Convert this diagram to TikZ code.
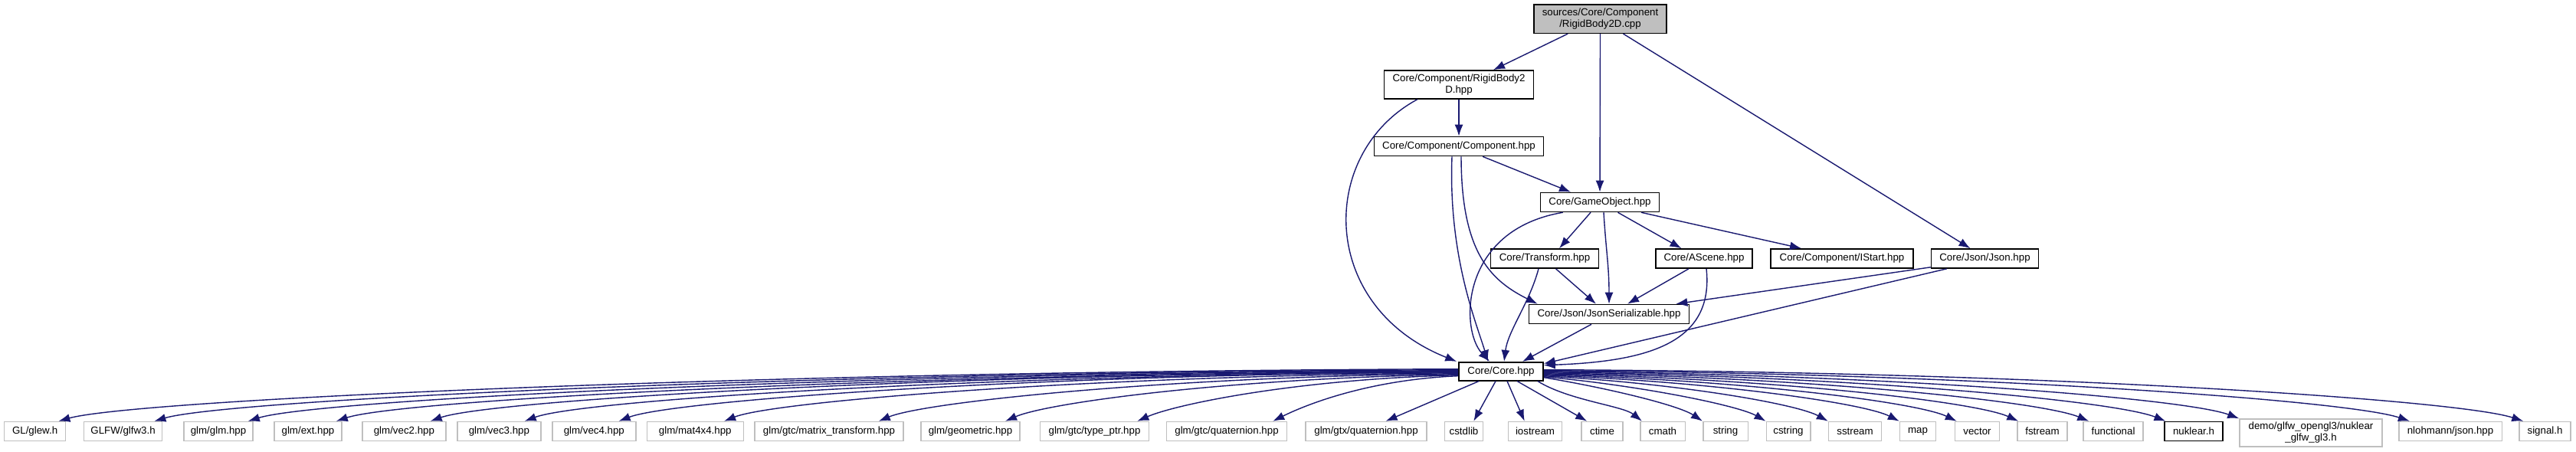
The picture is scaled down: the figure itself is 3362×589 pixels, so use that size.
\documentclass[tikz,border=0pt]{standalone}
\usepackage{fontspec}
\setmainfont{Liberation Sans}
\usetikzlibrary{arrows.meta,calc}
\definecolor{edgec}{HTML}{191970}
\definecolor{rootfill}{HTML}{BFBFBF}
\definecolor{extborder}{HTML}{BFBFBF}
\begin{document}
\begin{tikzpicture}[x=1pt,y=-1pt,
 box/.style={draw=black,line width=1.6pt,fill=white,inner sep=0pt,minimum height=25,font=\fontsize{13.3}{15}\selectfont,align=center},
 ext/.style={box,draw=extborder},
 rootbox/.style={box,fill=rootfill},
 dep/.style={draw=edgec,line width=1.4pt,-{Latex[length=15pt,width=11pt]}}]
\useasboundingbox[fill=white] (0,0) rectangle (3362,589);
% upper nodes
\node[rootbox,minimum width=173,minimum height=37.6] (root) at (2088.5,24.5) {sources/Core/Component\\/RigidBody2D.cpp};
\node[box,minimum width=195,minimum height=37] (rb) at (1904,110.5) {Core/Component/RigidBody2\\D.hpp};
\node[box,minimum width=221] (comp) at (1904,191) {Core/Component/Component.hpp};
\node[box,minimum width=155] (go) at (2088,264) {Core/GameObject.hpp};
\node[box,minimum width=141] (tr) at (2016,337.5) {Core/Transform.hpp};
\node[box,minimum width=126] (as) at (2224,337.5) {Core/AScene.hpp};
\node[box,minimum width=186] (is) at (2404,337.5) {Core/Component/IStart.hpp};
\node[box,minimum width=140] (js) at (2590.5,337.5) {Core/Json/Json.hpp};
\node[box,minimum width=209] (jser) at (2100,410) {Core/Json/JsonSerializable.hpp};
\node[box,minimum width=110,minimum height=24] (core) at (1959,484.7) {Core/Core.hpp};
% bottom row
\node[ext,minimum width=80] (glew) at (45.6,563) {GL/glew.h};
\node[ext,minimum width=102] (glfw) at (160.6,563) {GLFW/glfw3.h};
\node[ext,minimum width=90] (glmh) at (285,563) {glm/glm.hpp};
\node[ext,minimum width=88] (ext) at (402,563) {glm/ext.hpp};
\node[ext,minimum width=109] (vec2) at (527.4,563) {glm/vec2.hpp};
\node[ext,minimum width=109] (vec3) at (651.4,563) {glm/vec3.hpp};
\node[ext,minimum width=109] (vec4) at (775.3,563) {glm/vec4.hpp};
\node[ext,minimum width=126] (mat) at (907.3,563) {glm/mat4x4.hpp};
\node[ext,minimum width=194] (mtr) at (1082,563) {glm/gtc/matrix\_transform.hpp};
\node[ext,minimum width=129.5] (geo) at (1266.5,563) {glm/geometric.hpp};
\node[ext,minimum width=142] (tptr) at (1428.5,563) {glm/gtc/type\_ptr.hpp};
\node[ext,minimum width=157] (gtcq) at (1601,563) {glm/gtc/quaternion.hpp};
\node[ext,minimum width=157.5] (gtxq) at (1783,563) {glm/gtx/quaternion.hpp};
\node[ext,minimum width=50] (cstdlib) at (1910.5,563) {cstdlib};
\node[ext,minimum width=70] (iostream) at (2003.5,563) {iostream};
\node[ext,minimum width=54] (ctime) at (2091,563) {ctime};
\node[ext,minimum width=58.6] (cmath) at (2170,563) {cmath};
\node[ext,minimum width=58.6] (string) at (2252,563) {string};
\node[ext,minimum width=57.4] (cstring) at (2334,563) {cstring};
\node[ext,minimum width=69] (sstream) at (2421,563) {sstream};
\node[ext,minimum width=47] (map) at (2503,563) {map};
\node[ext,minimum width=58] (vector) at (2580.5,563) {vector};
\node[ext,minimum width=65] (fstream) at (2665.5,563) {fstream};
\node[ext,minimum width=78] (functional) at (2758,563) {functional};
\node[box,minimum width=75.6] (nuklear) at (2863,563) {nuklear.h};
\node[ext,minimum width=186,minimum height=36] (demo) at (3016,565) {demo/glfw\_opengl3/nuklear\\\_glfw\_gl3.h};
\node[ext,minimum width=134.6] (nloh) at (3198,563) {nlohmann/json.hpp};
\node[ext,minimum width=67] (signal) at (3321.5,563) {signal.h};
% upper edges
\draw[dep] ($(root.south west)+(45,0)$) -- ($(rb.north)+(45,0)$);
\draw[dep] (root.south) -- (go.north);
\draw[dep] ($(root.south)+(30,0)$) -- ($(js.north)+(-19,0)$);
\draw[dep] (rb.south) -- (comp.north);
\draw[dep] ($(rb.south west)+(44,0)$) .. controls (1720,200) and (1720,400) .. ($(core.north west)+(-2,0)$);
\draw[dep] ($(comp.south)+(31,0)$) -- ($(go.north)+(-38,0)$);
\draw[dep] ($(comp.south)+(3,0)$) .. controls +(0,127) and +(-60,-30) .. ($(jser.north west)+(12,0)$);
\draw[dep] ($(comp.south)+(-9,0)$) .. controls +(-5,130) and +(-15,-50) .. ($(core.north)+(-17,0)$);
\draw[dep] ($(go.south west)+(30,0)$) .. controls (1905,300) and (1905,430) .. ($(core.north)+(-15,0)$);
\draw[dep] ($(go.south)+(-12,0)$) -- ($(tr.north)+(19,0)$);
\draw[dep] ($(go.south)+(5,0)$) .. controls +(3,50) and +(0,-50) .. (jser.north);
\draw[dep] ($(go.south)+(23.5,0)$) -- ($(as.north)+(-29.5,0)$);
\draw[dep] ($(go.south)+(54,0)$) -- ($(is.north)+(-53,0)$);
\draw[dep] ($(tr.south)+(14.5,0)$) -- ($(jser.north)+(-17,0)$);
\draw[dep] ($(tr.south)+(-8,0)$) .. controls +(-12,45) and +(5,-40) .. ($(core.north)+(4,0)$);
\draw[dep] ($(as.south)+(-20,0)$) -- ($(jser.north)+(24,0)$);
\draw[dep] ($(as.south)+(3,0)$) .. controls +(10,95) and +(140,-5) .. ($(core.east)+(0,-8)$);
\draw[dep] ($(js.south west)+(0,-2)$) -- ($(jser.north east)+(-18,0)$);
\draw[dep] ($(js.south west)+(21,0)$) -- ($(core.east)+(0,-10)$);
\draw[dep] ($(jser.south)+(-23,0)$) -- ($(core.north)+(28,0)$);
% core to left group
\draw[dep] ($(core.west)+(0,-3)$) .. controls +(-914,3) and +(100,-28) .. ($(glew.north east)+(-10,0)$);
\draw[dep] ($(core.west)+(0,-2)$) .. controls +(-850,3) and +(95,-28) .. ($(glfw.north east)+(-11,0)$);
\draw[dep] ($(core.west)+(0,-1)$) .. controls +(-790,3) and +(90,-28) .. ($(glmh.north east)+(-7,0)$);
\draw[dep] ($(core.west)+(0,0)$) .. controls +(-730,3) and +(85,-28) .. ($(ext.north east)+(-8,0)$);
\draw[dep] ($(core.west)+(0,0)$) .. controls +(-670,3) and +(80,-28) .. ($(vec2.north east)+(-21,0)$);
\draw[dep] ($(core.west)+(0,1)$) .. controls +(-610,3) and +(75,-28) .. ($(vec3.north east)+(-22,0)$);
\draw[dep] ($(core.west)+(0,1)$) .. controls +(-550,3) and +(70,-27) .. ($(vec4.north east)+(-23,0)$);
\draw[dep] ($(core.west)+(0,2)$) .. controls +(-480,4) and +(65,-26) .. ($(mat.north east)+(-26,0)$);
\draw[dep] ($(core.west)+(0,3)$) .. controls +(-380,4) and +(60,-25) .. ($(mtr.north east)+(-33,0)$);
\draw[dep] ($(core.west)+(0,4)$) .. controls +(-300,5) and +(55,-24) .. ($(geo.north east)+(-20,0)$);
\draw[dep] ($(core.west)+(0,5)$) .. controls +(-210,5) and +(50,-22) .. ($(tptr.north east)+(-16,0)$);
\draw[dep] ($(core.west)+(0,6)$) .. controls +(-120,5) and +(40,-20) .. ($(gtcq.north east)+(-19,0)$);
\draw[dep] ($(core.south west)+(27,0)$) -- ($(gtxq.north east)+(-54,0)$);
\draw[dep] ($(core.south)+(-7,0)$) -- ($(cstdlib.north east)+(-13,0)$);
\draw[dep] ($(core.south)+(8,0)$) -- ($(iostream.north west)+(22,0)$);
% core to right group
\draw[dep] ($(core.south)+(21,0)$) -- ($(ctime.north west)+(8,0)$);
\draw[dep] ($(core.south east)+(-8,0)$) .. controls +(40,25) and +(-25,-20) .. ($(cmath.north west)+(3,0)$);
\draw[dep] ($(core.east)+(0,8)$) .. controls +(90,15) and +(-30,-20) .. (string.north west);
\draw[dep] ($(core.east)+(0,7)$) .. controls +(130,12) and +(-35,-20) .. (cstring.north west);
\draw[dep] ($(core.east)+(0,6)$) .. controls +(180,10) and +(-40,-22) .. (sstream.north west);
\draw[dep] ($(core.east)+(0,5)$) .. controls +(230,9) and +(-45,-23) .. (map.north west);
\draw[dep] ($(core.east)+(0,4)$) .. controls +(270,8) and +(-50,-24) .. ($(vector.north west)+(3,0)$);
\draw[dep] ($(core.east)+(0,3)$) .. controls +(310,7) and +(-55,-25) .. ($(fstream.north west)+(2,0)$);
\draw[dep] ($(core.east)+(0,2)$) .. controls +(360,6) and +(-60,-25) .. ($(functional.north west)+(8,0)$);
\draw[dep] ($(core.east)+(0,1)$) .. controls +(410,5) and +(-65,-26) .. ($(nuklear.north west)+(2,0)$);
\draw[dep] ($(core.east)+(0,0)$) .. controls +(450,4) and +(-70,-26) .. ($(demo.north west)+(0,0)$);
\draw[dep] ($(core.east)+(0,-1)$) .. controls +(560,3) and +(-80,-27) .. ($(nloh.north west)+(15,0)$);
\draw[dep] ($(core.east)+(0,-2)$) .. controls +(640,2) and +(-85,-28) .. ($(signal.north west)+(6,0)$);
\end{tikzpicture}
\end{document}
